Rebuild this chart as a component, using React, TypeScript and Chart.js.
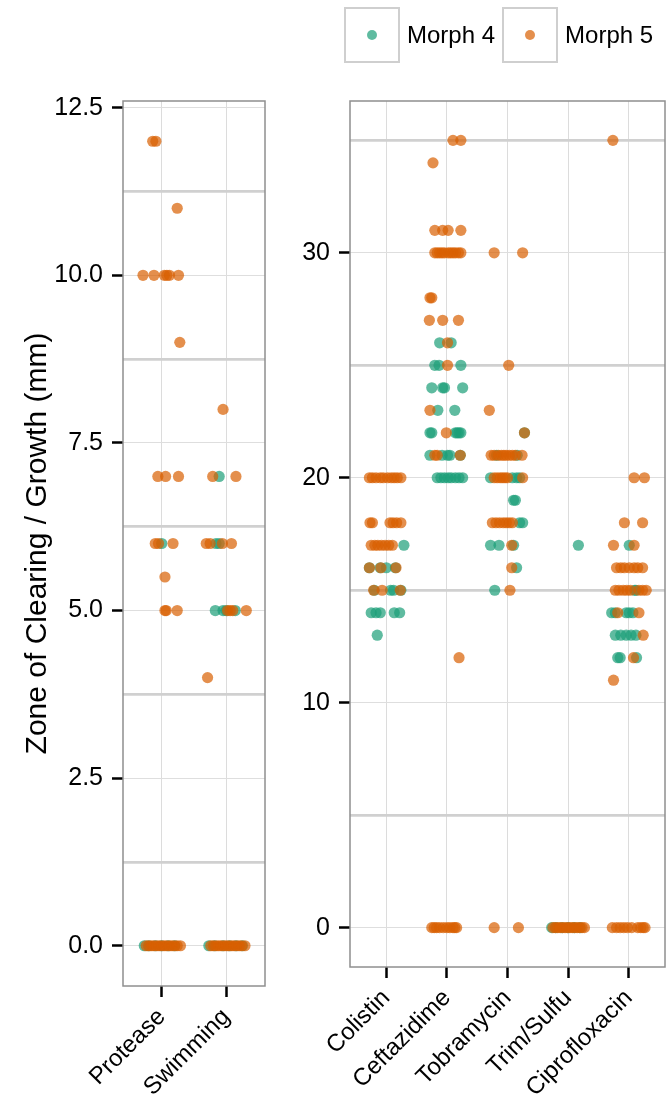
import React, { useEffect, useRef } from "react";
import { Chart, registerables } from "chart.js";
Chart.register(...registerables);

type Row = [number, number, number[]]; // [category index, value (mm), horizontal jitter of each point]

const leftCategories = ["Protease", "Swimming"];
const rightCategories = ["Colistin", "Ceftazidime", "Tobramycin", "Trim/Sulfu", "Ciprofloxacin"];
const leftMajorTicks = [0, 2.5, 5, 7.5, 10, 12.5];
const leftMinorTicks = [1.25, 3.75, 6.25, 8.75, 11.25];
const rightMajorTicks = [0, 10, 20, 30];
const rightMinorTicks = [5, 15, 25, 35];
const seriesNames = ["Morph 4", "Morph 5"];
const yTitle = "Zone of Clearing / Growth (mm)";

const morph4Left: Row[] = [
  [0, 6, [0.0]],
  [0, 0, [-0.27, -0.2, -0.1, 0.0, 0.1, 0.2]],
  [1, 7, [-0.11]],
  [1, 6, [-0.16, -0.11]],
  [1, 5, [-0.17, -0.05, 0.0, 0.14]],
  [1, 0, [-0.27, -0.18, -0.05, 0.05, 0.15, 0.25]],
];

const morph5Left: Row[] = [
  [0, 12, [-0.14, -0.09]],
  [0, 11, [0.24]],
  [0, 10, [-0.29, -0.12, 0.04, 0.08, 0.12, 0.26]],
  [0, 9, [0.28]],
  [0, 7, [-0.06, 0.06, 0.26]],
  [0, 6, [-0.1, -0.05, 0.175]],
  [0, 5.5, [0.05]],
  [0, 5, [0.05, 0.07, 0.24]],
  [0, 0, [-0.24, -0.2, -0.16, -0.12, -0.08, -0.04, 0.0, 0.04, 0.08, 0.12, 0.16, 0.2, 0.24, 0.29]],
  [1, 8, [-0.05]],
  [1, 7, [-0.21, 0.15]],
  [1, 6, [-0.31, -0.25, -0.06, 0.08]],
  [1, 5, [0.02, 0.06, 0.1, 0.31]],
  [1, 4, [-0.29]],
  [1, 0, [-0.24, -0.2, -0.16, -0.12, -0.08, -0.04, 0.0, 0.04, 0.08, 0.12, 0.16, 0.2, 0.24, 0.29]],
];

const morph4Right: Row[] = [
  [0, 17, [0.29]],
  [0, 16, [-0.28, -0.1, 0.0, 0.15]],
  [0, 15, [-0.2, 0.07, 0.12, 0.24]],
  [0, 14, [-0.25, -0.17, -0.1, 0.13, 0.22]],
  [0, 13, [-0.15]],
  [1, 26, [-0.12, 0.07]],
  [1, 25, [-0.2, -0.13, 0.23]],
  [1, 24, [-0.25, -0.07, -0.04, 0.26]],
  [1, 23, [-0.15, 0.13]],
  [1, 22, [-0.28, -0.25, 0.14, 0.17, 0.2, 0.23]],
  [1, 21, [-0.28, -0.08, 0.01, 0.05, 0.22]],
  [1, 20, [-0.16, -0.1, -0.04, 0.02, 0.07, 0.14, 0.2, 0.26]],
  [2, 22, [0.28]],
  [2, 21, [-0.18, 0.16]],
  [2, 20, [-0.28, 0.08, 0.15, 0.2]],
  [2, 19, [0.1, 0.13]],
  [2, 18, [0.2, 0.25]],
  [2, 17, [-0.28, -0.14, 0.1]],
  [2, 16, [0.15]],
  [2, 15, [-0.21]],
  [3, 17, [0.17]],
  [3, 0, [-0.27, -0.2, -0.1, 0.0, 0.1, 0.2]],
  [4, 17, [0.01]],
  [4, 15, [0.1, 0.12]],
  [4, 14, [-0.28, -0.22, -0.04, 0.01, 0.07]],
  [4, 13, [-0.22, -0.13, -0.04, 0.04, 0.12]],
  [4, 12, [-0.18, -0.14, 0.13]],
];

const morph5Right: Row[] = [
  [0, 20, [-0.28, -0.23, -0.17, -0.1, -0.05, 0.02, 0.08, 0.13, 0.18, 0.24]],
  [0, 18, [-0.27, -0.23, 0.06, 0.11, 0.17, 0.24]],
  [0, 17, [-0.25, -0.19, -0.14, -0.08, -0.02, 0.04, 0.1]],
  [0, 16, [-0.28, -0.09, 0.16]],
  [0, 15, [-0.21, -0.07, 0.23]],
  [1, 35, [0.1, 0.23]],
  [1, 34, [-0.23]],
  [1, 31, [-0.2, -0.07, 0.02, 0.23]],
  [1, 30, [-0.2, -0.16, -0.12, -0.08, -0.04, 0.02, 0.06, 0.1, 0.14, 0.19, 0.23]],
  [1, 28, [-0.28, -0.25]],
  [1, 27, [-0.29, -0.07, 0.19]],
  [1, 26, [0.01]],
  [1, 25, [0.01]],
  [1, 23, [-0.28]],
  [1, 22, [-0.01]],
  [1, 21, [-0.2, -0.16, 0.22]],
  [1, 12, [0.2]],
  [1, 0, [-0.25, -0.21, -0.17, -0.12, -0.06, 0.0, 0.05, 0.1, 0.13, 0.16]],
  [2, 30, [-0.22, 0.25]],
  [2, 25, [0.02]],
  [2, 23, [-0.3]],
  [2, 22, [0.28]],
  [2, 21, [-0.27, -0.22, -0.15, -0.1, -0.06, -0.02, 0.03, 0.08, 0.13, 0.24]],
  [2, 20, [-0.22, -0.17, -0.12, -0.08, -0.04, 0.0, 0.25]],
  [2, 18, [-0.25, -0.19, -0.13, -0.07, -0.02, 0.03, 0.08]],
  [2, 17, [0.07]],
  [2, 16, [0.07]],
  [2, 15, [0.04]],
  [2, 0, [-0.22, 0.18]],
  [3, 0, [-0.25, -0.21, -0.17, -0.13, -0.09, -0.05, -0.01, 0.03, 0.07, 0.11, 0.15, 0.19, 0.23, 0.27]],
  [4, 35, [-0.26]],
  [4, 20, [0.09, 0.26]],
  [4, 18, [-0.07, 0.23]],
  [4, 17, [-0.25, 0.09]],
  [4, 16, [-0.2, -0.13, -0.07, 0.01, 0.09, 0.15, 0.23]],
  [4, 15, [-0.22, -0.16, -0.09, -0.03, 0.03, 0.17, 0.23, 0.29]],
  [4, 14, [-0.18, 0.17]],
  [4, 13, [0.24]],
  [4, 12, [0.08]],
  [4, 11, [-0.25]],
  [4, 0, [-0.27, -0.2, -0.14, -0.08, -0.02, 0.05, 0.15, 0.2, 0.24, 0.27]],
];

const TEAL = "rgba(27,158,119,0.7)";
const ORANGE = "rgba(217,95,2,0.7)";
const FONT = "'Liberation Sans', Arial, Helvetica, sans-serif";
const W = 672;
const H = 1106;
const R = 5.6;

function toPoints(rows: Row[]) {
  const pts: { x: number; y: number }[] = [];
  rows.forEach(([cat, value, jit]) => {
    jit.forEach((j) => pts.push({ x: cat + 1 + j, y: value }));
  });
  return pts;
}

const borderPlugin = {
  id: "panelBorder",
  afterDatasetsDraw(chart: any) {
    const { ctx, chartArea: a } = chart;
    ctx.save();
    ctx.strokeStyle = "#8f8f8f";
    ctx.lineWidth = 1.5;
    ctx.strokeRect(a.left, a.top, a.right - a.left, a.bottom - a.top);
    ctx.restore();
  },
};

function makeConfig(opts: {
  categories: string[];
  m4: Row[];
  m5: Row[];
  major: number[];
  minor: number[];
  yMin: number;
  yMax: number;
  fmt: (v: number) => string;
  padRight: number;
  yWidth: number;
  xHeight: number;
  showTitle: boolean;
}): any {
  const n = opts.categories.length;
  const allY = [...opts.major, ...opts.minor].sort((a, b) => a - b);
  const isMinor = (v: number) => opts.minor.some((m) => Math.abs(m - v) < 1e-6);
  return {
    type: "scatter",
    data: {
      datasets: [
        {
          label: seriesNames[0],
          data: toPoints(opts.m4),
          backgroundColor: TEAL,
          borderWidth: 0,
          pointRadius: R,
          pointHoverRadius: R,
          order: 2,
        },
        {
          label: seriesNames[1],
          data: toPoints(opts.m5),
          backgroundColor: ORANGE,
          borderWidth: 0,
          pointRadius: R,
          pointHoverRadius: R,
          order: 1,
        },
      ],
    },
    options: {
      responsive: false,
      animation: false,
      devicePixelRatio: 1,
      layout: { padding: { left: 0, top: 101, right: opts.padRight, bottom: 0 } },
      plugins: { legend: { display: false }, tooltip: { enabled: false } },
      scales: {
        x: {
          type: "linear",
          min: 0.4,
          max: n + 0.6,
          afterBuildTicks: (scale: any) => {
            scale.ticks = opts.categories.map((_, i) => ({ value: i + 1 }));
          },
          afterFit: (scale: any) => {
            scale.height = opts.xHeight;
          },
          border: { display: false },
          grid: {
            color: "#dcdcdc",
            lineWidth: 1,
            drawTicks: true,
            tickLength: 11,
            tickColor: "#000",
            tickWidth: 2.5,
          },
          ticks: {
            autoSkip: false,
            minRotation: 45,
            maxRotation: 45,
            padding: 6,
            color: "#000",
            font: { family: FONT, size: 24 },
            callback: (v: number) => opts.categories[Math.round(v) - 1] ?? "",
          },
        },
        y: {
          type: "linear",
          min: opts.yMin,
          max: opts.yMax,
          afterBuildTicks: (scale: any) => {
            scale.ticks = allY.map((v) => ({ value: v }));
          },
          afterFit: (scale: any) => {
            scale.width = opts.yWidth;
          },
          border: { display: false },
          grid: {
            color: (c: any) => (c.tick && isMinor(c.tick.value) ? "#d0d0d0" : "#dedede"),
            lineWidth: (c: any) => (c.tick && isMinor(c.tick.value) ? 2.8 : 1),
            drawTicks: true,
            tickLength: 11,
            tickColor: (c: any) => (c.tick && isMinor(c.tick.value) ? "rgba(0,0,0,0)" : "#000"),
            tickWidth: 2.5,
          },
          ticks: {
            autoSkip: false,
            padding: 9,
            color: "#000",
            font: { family: FONT, size: 25 },
            callback: (v: number) => (isMinor(v) ? "" : opts.fmt(v)),
          },
          title: {
            display: opts.showTitle,
            text: yTitle,
            color: "#000",
            font: { family: FONT, size: 30, weight: "normal" },
            padding: { top: 20, bottom: 0 },
          },
        },
      },
    },
    plugins: [borderPlugin],
  };
}

function Legend() {
  const items = [
    { name: seriesNames[0], color: TEAL },
    { name: seriesNames[1], color: ORANGE },
  ];
  return (
    <div
      style={{
        position: "absolute",
        left: 344,
        top: 7,
        display: "flex",
        alignItems: "center",
        fontFamily: FONT,
        fontSize: 24,
        color: "#000",
      }}
    >
      {items.map((it) => (
        <div key={it.name} style={{ display: "flex", alignItems: "center" }}>
          <div
            style={{
              width: 52,
              height: 52,
              border: "2px solid #cfcfcf",
              boxSizing: "content-box",
              display: "flex",
              alignItems: "center",
              justifyContent: "center",
            }}
          >
            <div style={{ width: 10, height: 10, borderRadius: "50%", background: it.color }} />
          </div>
          <span style={{ marginLeft: 7, marginRight: 7, whiteSpace: "nowrap" }}>{it.name}</span>
        </div>
      ))}
    </div>
  );
}

export default function App() {
  const leftRef = useRef<HTMLCanvasElement>(null);
  const rightRef = useRef<HTMLCanvasElement>(null);

  useEffect(() => {
    const left = new Chart(
      leftRef.current as HTMLCanvasElement,
      makeConfig({
        categories: leftCategories,
        m4: morph4Left,
        m5: morph5Left,
        major: leftMajorTicks,
        minor: leftMinorTicks,
        yMin: -0.6,
        yMax: 12.6,
        fmt: (v) => v.toFixed(1),
        padRight: W - 265,
        yWidth: 123,
        xHeight: H - 986,
        showTitle: true,
      })
    );
    const right = new Chart(
      rightRef.current as HTMLCanvasElement,
      makeConfig({
        categories: rightCategories,
        m4: morph4Right,
        m5: morph5Right,
        major: rightMajorTicks,
        minor: rightMinorTicks,
        yMin: -1.75,
        yMax: 36.75,
        fmt: (v) => String(v),
        padRight: W - 665,
        yWidth: 350,
        xHeight: H - 967,
        showTitle: false,
      })
    );
    return () => {
      left.destroy();
      right.destroy();
    };
  }, []);

  const canvasStyle: React.CSSProperties = { position: "absolute", left: 0, top: 0, width: W, height: H };
  return (
    <div style={{ position: "absolute", left: 0, top: 0, width: W, height: H, background: "#fff", overflow: "hidden" }}>
      <canvas ref={leftRef} width={W} height={H} style={canvasStyle} />
      <canvas ref={rightRef} width={W} height={H} style={canvasStyle} />
      <Legend />
    </div>
  );
}
